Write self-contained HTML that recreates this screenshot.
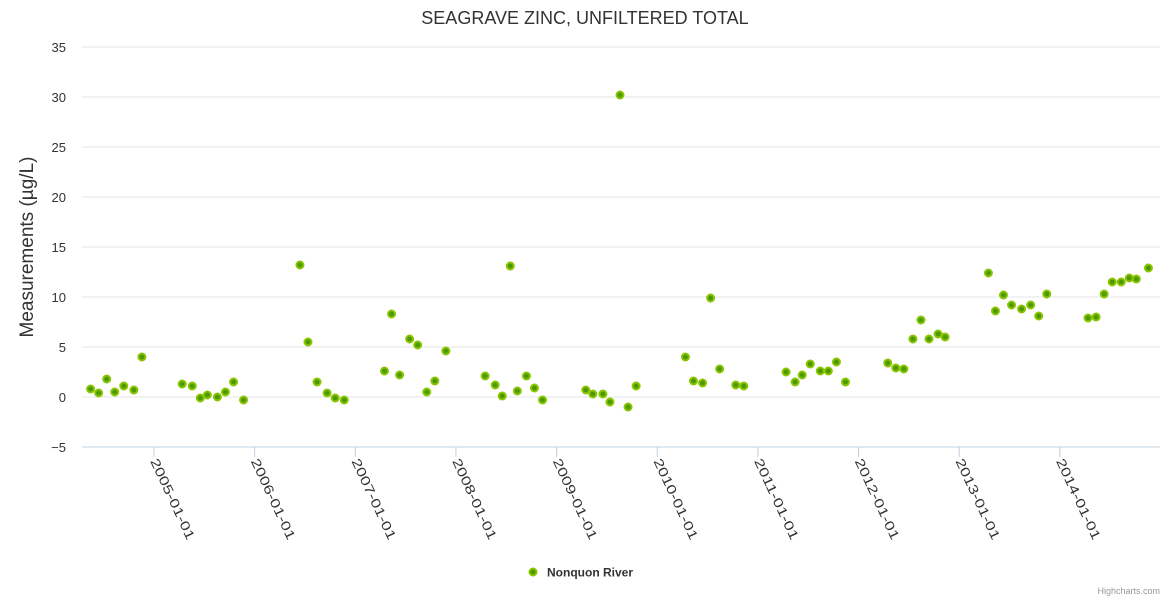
<!DOCTYPE html>
<html><head><meta charset="utf-8"><style>
body{margin:0;background:#fff;font-family:"Liberation Sans",sans-serif}
svg{display:block}
</style></head><body>
<svg id="chart" width="1170" height="600" xmlns="http://www.w3.org/2000/svg">
<text x="585" y="24" text-anchor="middle" font-size="18" fill="#333">SEAGRAVE ZINC, UNFILTERED TOTAL</text>
<g id="grid"></g>
<g id="yaxis"></g>
<g id="xaxis"></g>
<text transform="translate(33,247) rotate(-90)" text-anchor="middle" font-size="19" fill="#333">Measurements (µg/L)</text>
<g id="points"></g>
<g>
<circle cx="533" cy="572" r="3.5" fill="#4a9a00" stroke="#8bc400" stroke-width="2"/>
<text x="547" y="576.5" font-size="12" font-weight="bold" fill="#333">Nonquon River</text>
</g>
<text x="1160" y="594" text-anchor="end" font-size="9" fill="#999">Highcharts.com</text>
</svg>
<script>
const dates=[2004.37,2004.45,2004.53,2004.61,2004.70,2004.80,2004.88,
2005.28,2005.38,2005.46,2005.53,2005.63,2005.71,2005.79,2005.89,
2006.45,2006.53,2006.62,2006.72,2006.80,2006.89,
2007.29,2007.36,2007.44,2007.54,2007.62,2007.71,2007.79,2007.90,
2008.29,2008.39,2008.46,2008.54,2008.61,2008.70,2008.78,2008.86,
2009.29,2009.36,2009.46,2009.53,2009.63,2009.71,2009.79,
2010.28,2010.36,2010.45,2010.53,2010.62,2010.78,2010.86,
2011.28,2011.37,2011.44,2011.52,2011.62,2011.70,2011.78,2011.87,
2012.29,2012.37,2012.45,2012.54,2012.62,2012.70,2012.79,2012.86,
2013.29,2013.36,2013.44,2013.52,2013.62,2013.71,2013.79,2013.87,
2014.28,2014.36,2014.44,2014.52,2014.61,2014.69,2014.76,2014.88];
const values=[0.8,0.4,1.8,0.5,1.1,0.7,4.0,
1.3,1.1,-0.1,0.2,0.0,0.5,1.5,-0.3,
13.2,5.5,1.5,0.4,-0.1,-0.3,
2.6,8.3,2.2,5.8,5.2,0.5,1.6,4.6,
2.1,1.2,0.1,13.1,0.6,2.1,0.9,-0.3,
0.7,0.3,0.3,-0.5,30.2,-1.0,1.1,
4.0,1.6,1.4,9.9,2.8,1.2,1.1,
2.5,1.5,2.2,3.3,2.6,2.6,3.5,1.5,
3.4,2.9,2.8,5.8,7.7,5.8,6.3,6.0,
12.4,8.6,10.2,9.2,8.8,9.2,8.1,10.3,
7.9,8.0,10.3,11.5,11.5,11.9,11.8,12.9];
const yTicks=[-5,0,5,10,15,20,25,30,35];
const xTickYears=[2005,2006,2007,2008,2009,2010,2011,2012,2013,2014];
const xTickLabels=["2005-01-01","2006-01-01","2007-01-01","2008-01-01","2009-01-01","2010-01-01","2011-01-01","2012-01-01","2013-01-01","2014-01-01"];
const NS="http://www.w3.org/2000/svg";
const L=82,R=1160;
function xs(d){return 154+(d-2005)*100.65;}
function ys(v){return 397-v*10;}
function mk(t,a,p){const e=document.createElementNS(NS,t);for(const k in a)e.setAttribute(k,a[k]);p.appendChild(e);return e;}
const grid=document.getElementById('grid'),ya=document.getElementById('yaxis'),xa=document.getElementById('xaxis'),pts=document.getElementById('points');
yTicks.forEach(v=>{
 const l=mk('line',{x1:L,x2:R,y1:ys(v),y2:ys(v),stroke:v===-5?'#c0d0e0':'#e6e6e6','stroke-width':1},grid);
 
 
 const t=mk('text',{x:66,y:ys(v)+5,'text-anchor':'end','font-size':13,fill:'#333'},ya);
 t.textContent=v===-5?'−5':String(v);
 
 
});
xTickYears.forEach((d,i)=>{
 const x=xs(d);
 const tk=mk('line',{x1:x,x2:x,y1:447,y2:457,stroke:'#c0d0e0','stroke-width':1},xa);
 
 
 const t=mk('text',{transform:`translate(${x-4},461) rotate(65)`,'font-size':13,fill:'#333',textLength:88,lengthAdjust:'spacingAndGlyphs'},xa);
 t.textContent=xTickLabels[i];
 
 
});
dates.forEach((d,i)=>{
 const c=mk('circle',{cx:xs(d),cy:ys(values[i]),r:3.5,fill:'#4a9a00',stroke:'#8bc400','stroke-width':2},pts);
 
 
});
</script>
</body></html>
